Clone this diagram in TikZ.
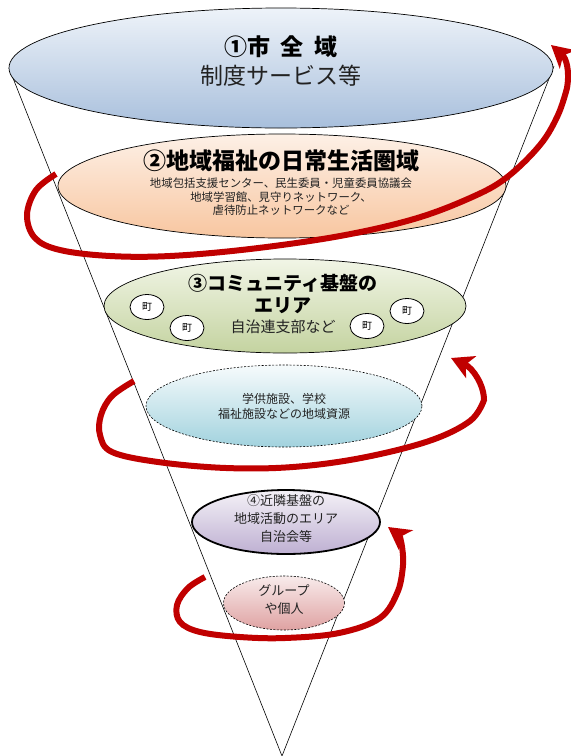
\documentclass[tikz,border=0pt]{standalone}
\usepackage{fontspec}
\setmainfont{Noto Sans CJK JP}
\usetikzlibrary{shapes.geometric,arrows.meta}
\definecolor{aTop}{HTML}{EEF3F9}
\definecolor{aBot}{HTML}{A8BFDC}
\definecolor{bTop}{HTML}{FDF0E6}
\definecolor{bBot}{HTML}{F8C6A0}
\definecolor{cTop}{HTML}{F1F5E6}
\definecolor{cBot}{HTML}{C4D3A0}
\definecolor{dTop}{HTML}{F6FBFC}
\definecolor{dBot}{HTML}{A2D2DE}
\definecolor{eTop}{HTML}{F4F1F7}
\definecolor{eBot}{HTML}{BEB0D2}
\definecolor{fTop}{HTML}{F8EBEB}
\definecolor{fBot}{HTML}{DFA2A2}
\definecolor{spiral}{HTML}{C00000}
\definecolor{txt}{HTML}{222222}
\tikzset{
  disc/.style={ellipse, draw=black, line width=0.7pt, inner sep=0pt},
  dashdisc/.style={ellipse, draw=black, line width=0.6pt, dash pattern=on 2pt off 1.5pt, inner sep=0pt},
  town/.style={ellipse, draw=black, line width=0.8pt, fill=white, minimum width=34pt, minimum height=25pt, inner sep=0pt, font=\fontsize{10}{12}\selectfont},
  bigtitle/.style={font=\fontsize{23}{26}\selectfont\bfseries, text=black},
  midtitle/.style={font=\fontsize{19}{22}\selectfont\bfseries, text=black, align=center},
  small/.style={font=\fontsize{11.4}{13.5}\selectfont, text=txt, align=center},
  label/.style={font=\fontsize{12.5}{15}\selectfont, text=txt, align=center},
  spiralarrow/.style={draw=spiral, line width=6pt, -{Stealth[length=22pt, width=24pt, inset=6pt]}},
  cone/.style={draw=black, line width=0.6pt}
}
\begin{document}
\begin{tikzpicture}[x=1pt, y=-1pt]
\useasboundingbox (0,0) rectangle (571,756);
% cone
\coordinate (tl) at (9,68);
\coordinate (tr) at (554,66);
\coordinate (apex) at (282,756);
\draw[cone] (tl) -- (apex) -- (tr);
% level 1
\node[disc, minimum width=544pt, minimum height=120pt, top color=aTop, bottom color=aBot] (e1) at (281,68) {};
\node[bigtitle] (t1a) at (281,47) {①市\hspace{0.45em}全\hspace{0.45em}域};
\node[font=\fontsize{23}{26}\selectfont, text=txt] (t1b) at (281,76) {制度サービス等};
% level 2
\node[disc, minimum width=448pt, minimum height=104pt, top color=bTop, bottom color=bBot] (e2) at (282,186) {};
\node[bigtitle] (t2a) at (281,161) {②地域福祉の日常生活圏域};
\node[small] (t2b) at (281,197) {地域包括支援センター、民生委員・児童委員協議会\\地域学習館、見守りネットワーク、\\虐待防止ネットワークなど};
% level 3
\node[disc, minimum width=362pt, minimum height=94pt, top color=cTop, bottom color=cBot] (e3) at (285,306) {};
\node[midtitle] (t3a) at (283,294) {③コミュニティ基盤の\\エリア};
\node[font=\fontsize{15}{18}\selectfont, text=txt] (t3c) at (283,327) {自治連支部など};
\node[town] (m1) at (147,307) {町};
\node[town] (m2) at (187,328) {町};
\node[town] (m3) at (367,326) {町};
\node[town] (m4) at (407,311) {町};
% level 3b
\node[dashdisc, minimum width=276pt, minimum height=82pt, top color=dTop, bottom color=dBot] (e4) at (284,406) {};
\node[label, font=\fontsize{12}{15}\selectfont] (t4) at (284,406) {学供施設、学校\\福祉施設などの地域資源};
% level 4
\node[ellipse, draw=black, line width=1.8pt, inner sep=0pt, minimum width=188pt, minimum height=64pt, top color=eTop, bottom color=eBot] (e5) at (286,522) {};
\node[label, font=\fontsize{13}{18}\selectfont] (t5) at (286,519) {④近隣基盤の\\地域活動のエリア\\自治会等};
% level 5
\node[dashdisc, minimum width=121pt, minimum height=54pt, top color=fTop, bottom color=fBot] (e6) at (284,603) {};
\node[label, font=\fontsize{13}{18}\selectfont] (t6) at (284,600) {グループ\\や個人};
% spirals
\coordinate (s1) at (56,174);
\coordinate (f1) at (551,45);
\draw[spiralarrow] plot[smooth, tension=0.6] coordinates {(s1) (36,190) (27,215) (35,238) (60,250) (110,256) (170,256) (250,249) (340,236) (414,219) (470,198) (506,178) (540,145) (558,115) (567,88)} .. controls (570,70) and (566,58) .. (f1);
\coordinate (s2) at (134,381);
\coordinate (f2) at (451,358);
\draw[spiralarrow] plot[smooth, tension=0.6] coordinates {(s2) (112,396) (101,415) (100,435) (112,452) (158,462) (226,468) (293,467) (361,458) (429,441) (470,421) (484,400)} .. controls (484,385) and (473,368) .. (f2);
\coordinate (s3) at (205,577);
\coordinate (f3) at (388,527);
\draw[spiralarrow] plot[smooth, tension=0.6] coordinates {(s3) (188,588) (177,605) (180,622) (200,632) (240,637) (285,638) (339,633) (380,618) (398,591) (403,565)} .. controls (404,548) and (399,535) .. (f3);
\end{tikzpicture}
\end{document}
